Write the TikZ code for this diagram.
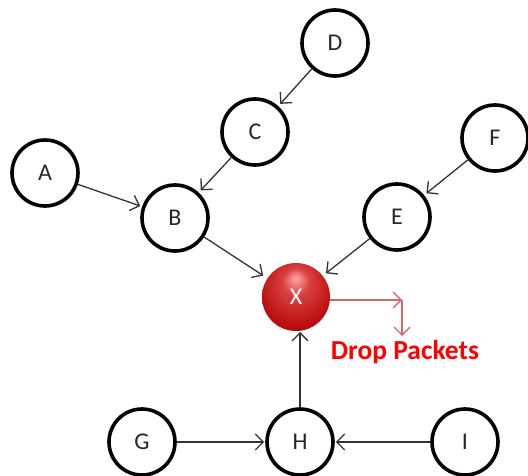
\documentclass[tikz,border=0pt]{standalone}
\usepackage{fontspec}
\setmainfont{Carlito}
\usetikzlibrary{arrows.meta}
\definecolor{edgegray}{HTML}{333333}
\definecolor{droparrow}{HTML}{D26A6A}
\definecolor{dropred}{HTML}{FF0000}
\pgfdeclareradialshading{xball}{\pgfpoint{0bp}{14bp}}{%
  color(0bp)=(red!35!white);
  color(10bp)=(red!70!white!85!black);
  color(28bp)=(red!72!black!95!white);
  color(40bp)=(red!60!black);
  color(50bp)=(red!50!black)}
\begin{document}
\begin{tikzpicture}[x=1pt,y=-1pt,
  nodecirc/.style={circle, draw=black, line width=3.6pt, minimum size=66pt, inner sep=0pt,
    font=\fontsize{24}{24}\selectfont, text=black!85},
  redball/.style={circle, minimum size=68pt, inner sep=0pt, shading=xball,
    font=\fontsize{24}{24}\selectfont, text=white},
  conn/.style={draw=edgegray, line width=1.3pt, -{Straight Barb[length=8pt,width=16pt,line width=1.3pt]}},
  dropconn/.style={draw=droparrow, line width=1.3pt, -{Straight Barb[length=8pt,width=16pt,line width=1.3pt]}},
  droptext/.style={font=\bfseries\fontsize{27.5}{27.5}\selectfont, text=dropred}]
\useasboundingbox (0,0) rectangle (528,476);
\node[nodecirc] (D) at (335,43) {D};
\node[nodecirc] (C) at (255,132) {C};
\node[nodecirc] (A) at (45,173) {A};
\node[nodecirc] (B) at (175,218) {B};
\node[nodecirc] (F) at (495,138) {F};
\node[nodecirc] (E) at (397,217) {E};
\node[redball] (X) at (296,297) {X};
\node[nodecirc] (G) at (142,442) {G};
\node[nodecirc] (H) at (300,442) {H};
\node[nodecirc] (I) at (465,442) {I};
\coordinate (corner) at (402,300);
\coordinate (dropend) at (402,336);
\coordinate (hx) at (300,332);
\node[droptext] (drop) at (405,352) {Drop Packets};
\draw[conn, shorten >=3pt] (D) -- (C);
\draw[conn, shorten >=3pt] (C) -- (B);
\draw[conn, shorten >=2pt] (A) -- (B);
\draw[conn, shorten >=5pt] (B) -- (X);
\draw[conn, shorten >=3pt] (F) -- (E);
\draw[conn, shorten >=4pt] (E) -- (X);
\draw[conn] (H.north) -- (hx);
\draw[conn, shorten >=1pt] (G) -- (H);
\draw[conn, shorten >=1pt] (I) -- (H);
\draw[dropconn] (X.east |- corner) -- (corner);
\draw[dropconn] (corner) -- (dropend);
\end{tikzpicture}
\end{document}
